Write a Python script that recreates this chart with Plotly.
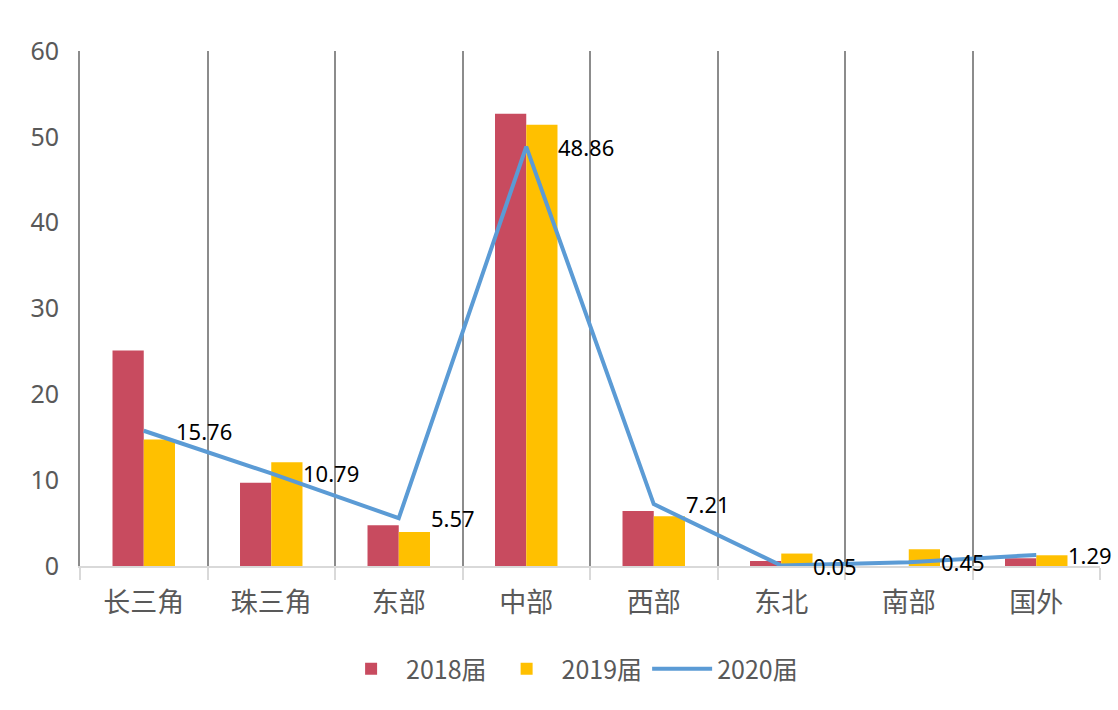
import plotly.graph_objects as go

categories = ["长三角", "珠三角", "东部", "中部", "西部", "东北", "南部", "国外"]
y2018 = [25.1, 9.7, 4.75, 52.7, 6.4, 0.58, 0.0, 0.9]
y2019 = [14.75, 12.1, 3.95, 51.4, 5.8, 1.45, 1.95, 1.25]
y2020 = [15.76, 10.79, 5.57, 48.86, 7.21, 0.05, 0.45, 1.29]
series_names = ["2018届", "2019届", "2020届"]
y_ticks = [0, 10, 20, 30, 40, 50, 60]

FONT = "Noto Sans, Noto Sans CJK SC, sans-serif"
CJK = "Noto Sans CJK SC, sans-serif"

fig = go.Figure()
fig.add_trace(go.Bar(x=categories, y=y2018, name=series_names[0],
                     marker=dict(color="#C84B5F", line=dict(width=0))))
fig.add_trace(go.Bar(x=categories, y=y2019, name=series_names[1],
                     marker=dict(color="#FFC000", line=dict(width=0))))
fig.add_trace(go.Scatter(x=categories, y=y2020, name=series_names[2], mode="lines",
                         line=dict(color="#5B9BD5", width=4)))

for c, v in zip(categories, y2020):
    fig.add_annotation(x=c, y=v, text=f"{v:.2f}", showarrow=False,
                       xanchor="left", yanchor="middle", xshift=30,
                       font=dict(family=FONT, size=22, color="#000000"))

fig.update_layout(
    width=1118, height=710,
    margin=dict(l=80, r=18, t=51, b=144),
    paper_bgcolor="white", plot_bgcolor="white",
    barmode="group", bargap=0.51, bargroupgap=0,
    font=dict(family=FONT, color="#595959"),
    legend=dict(orientation="h", x=0.48, xanchor="center", y=-0.2, yanchor="middle",
                font=dict(family=CJK, size=25, color="#595959"),
                itemwidth=60, traceorder="normal"),
    showlegend=True,
)
fig.update_xaxes(
    type="category", tickson="boundaries",
    showgrid=True, gridcolor="#8C8C8C", gridwidth=2,
    showline=True, linecolor="#D9D9D9", linewidth=2,
    ticks="outside", ticklen=12, tickcolor="#D9D9D9", tickwidth=2,
    tickfont=dict(family=CJK, size=27, color="#595959"),
    ticklabelstandoff=12,
    range=[-0.5, 7.5],
)
fig.update_yaxes(
    range=[0, 60], tickvals=y_ticks, showgrid=False, zeroline=False,
    showline=True, linecolor="#8C8C8C", linewidth=2,
    tickfont=dict(family=FONT, size=25, color="#595959"),
    ticks="", ticklabelstandoff=14,
)

fig.write_html("out.html")
